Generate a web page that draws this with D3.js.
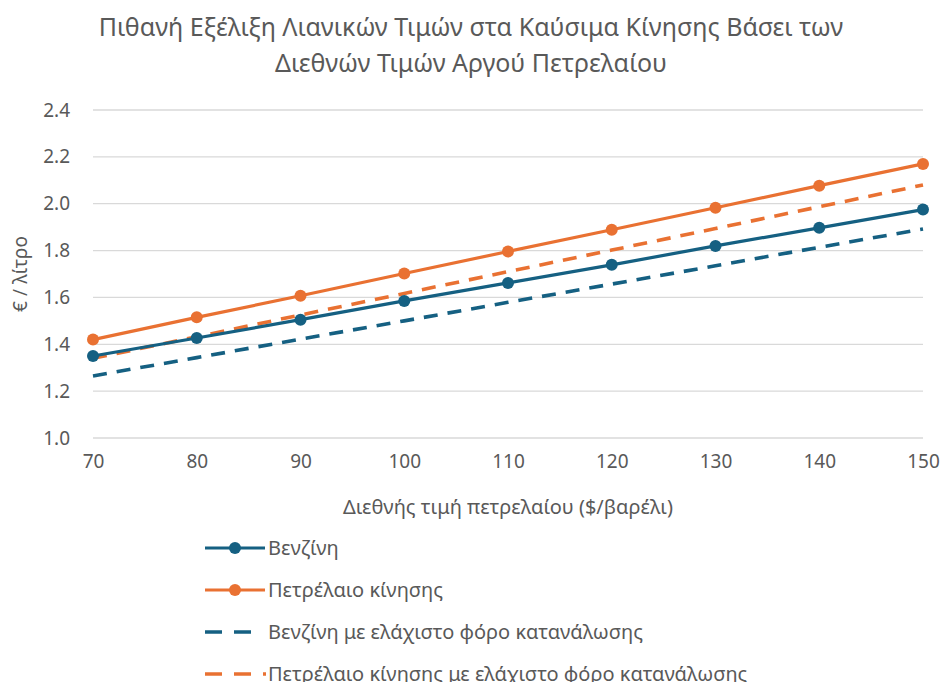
<!DOCTYPE html>
<html>
<head>
<meta charset="utf-8">
<script src="https://cdn.jsdelivr.net/npm/d3@7"></script>
<style>
  body { margin: 0; background: #fff; }
  svg { display: block; font-family: "Noto Sans", "Liberation Sans", Arial, sans-serif; }
</style>
</head>
<body>
<svg id="chart" width="943" height="682"></svg>
<script>
var oilPrices = [70, 80, 90, 100, 110, 120, 130, 140, 150];
var benzine = [1.35, 1.427, 1.505, 1.585, 1.662, 1.739, 1.82, 1.897, 1.975];
var diesel = [1.42, 1.515, 1.607, 1.702, 1.796, 1.889, 1.983, 2.077, 2.17];
var benzineMinTax = [1.265, 1.343, 1.422, 1.5, 1.579, 1.657, 1.735, 1.814, 1.892];
var dieselMinTax = [1.34, 1.432, 1.525, 1.617, 1.71, 1.802, 1.894, 1.987, 2.08];
var yTicks = [1.0, 1.2, 1.4, 1.6, 1.8, 2.0, 2.2, 2.4];
var seriesNames = ["Βενζίνη", "Πετρέλαιο κίνησης",
  "Βενζίνη με ελάχιστο φόρο κατανάλωσης",
  "Πετρέλαιο κίνησης με ελάχιστο φόρο κατανάλωσης"];

var blue = "#156082", orange = "#E97132", textCol = "#595959";

var series = [
  { name: seriesNames[0], values: benzine, color: blue, dashed: false },
  { name: seriesNames[1], values: diesel, color: orange, dashed: false },
  { name: seriesNames[2], values: benzineMinTax, color: blue, dashed: true },
  { name: seriesNames[3], values: dieselMinTax, color: orange, dashed: true }
];

var svg = d3.select("#chart");
var margin = { top: 110, left: 93, right: 20, bottom: 244 };
var width = 923 - margin.left, height = 438 - margin.top;

var xScale = d3.scaleLinear().domain([70, 150]).range([0, width]);
var yScale = d3.scaleLinear().domain([1.0, 2.4]).range([height, 0]);

// title
var titleLines = ["Πιθανή Εξέλιξη Λιανικών Τιμών στα Καύσιμα Κίνησης Βάσει των",
  "Διεθνών Τιμών Αργού Πετρελαίου"];
svg.selectAll(".title")
  .data(titleLines)
  .enter().append("text")
  .attr("class", "title")
  .attr("x", 471)
  .attr("y", function(d, i) { return 36 + i * 36; })
  .style("font-size", "25px").style("fill", textCol)
  .style("text-anchor", "middle")
  .text(function(d) { return d; });

var canvas = svg.append("g")
  .attr("transform", "translate(" + margin.left + "," + margin.top + ")");

// gridlines
canvas.append("g")
  .selectAll("line")
  .data(yTicks)
  .enter().append("line")
  .attr("x1", 0).attr("x2", width)
  .attr("y1", function(d) { return yScale(d); })
  .attr("y2", function(d) { return yScale(d); })
  .style("stroke", "#d9d9d9")
  .style("stroke-width", 1.3);

var yAxis = d3.axisLeft(yScale).tickValues(yTicks)
  .tickFormat(d3.format(".1f")).tickSize(0).tickPadding(23);
var xAxis = d3.axisBottom(xScale).tickValues(oilPrices)
  .tickFormat(d3.format("d")).tickSize(0).tickPadding(17);

var yg = canvas.append("g").call(yAxis);
yg.select(".domain").remove();
yg.selectAll("text").style("font-size", "19px").style("fill", textCol)
  .style("font-family", "'Noto Sans', sans-serif");

var xg = canvas.append("g")
  .attr("transform", "translate(0," + height + ")")
  .call(xAxis);
xg.select(".domain").remove();
xg.selectAll("text").style("font-size", "19px").style("fill", textCol)
  .style("font-family", "'Noto Sans', sans-serif");

// axis titles
svg.append("text")
  .attr("transform", "translate(20," + (margin.top + height / 2) + ") rotate(-90)")
  .attr("dy", ".35em")
  .style("font-size", "19px").style("fill", textCol)
  .style("text-anchor", "middle")
  .text("€ / λίτρο");

svg.append("text")
  .attr("x", margin.left + width / 2).attr("y", 507).attr("dy", ".35em")
  .style("font-size", "20px").style("fill", textCol)
  .style("text-anchor", "middle")
  .text("Διεθνής τιμή πετρελαίου ($/βαρέλι)");

var line = d3.line()
  .x(function(d, i) { return xScale(oilPrices[i]); })
  .y(function(d) { return yScale(d); });

// draw dashed first, then solid on top
[series[3], series[2], series[1], series[0]].forEach(function(s) {
  canvas.append("path")
    .datum(s.values)
    .attr("d", line)
    .style("fill", "none")
    .style("stroke", s.color)
    .style("stroke-width", s.dashed ? 3.6 : 3.2)
    .style("stroke-dasharray", s.dashed ? "14,10" : null)
    .style("stroke-linejoin", "round");
  if (!s.dashed) {
    canvas.selectAll(".dot-" + s.name.length)
      .data(s.values)
      .enter().append("circle")
      .attr("cx", function(d, i) { return xScale(oilPrices[i]); })
      .attr("cy", function(d) { return yScale(d); })
      .attr("r", 6)
      .style("fill", s.color);
  }
});

// legend
var legend = svg.selectAll(".legend")
  .data(series)
  .enter().append("g")
  .attr("class", "legend")
  .attr("transform", function(d, i) {
    return "translate(205," + (548 + i * 42) + ")";
  });

legend.append("line")
  .attr("x1", 0).attr("x2", function(d, i) { return i === 3 ? 62 : (d.dashed ? 50 : 60); })
  .attr("y1", 0).attr("y2", 0)
  .style("stroke", function(d) { return d.color; })
  .style("stroke-width", function(d) { return d.dashed ? 3.6 : 3.2; })
  .style("stroke-dasharray", function(d) { return d.dashed ? "17,12,17,12,3,100" : null; });

legend.filter(function(d) { return !d.dashed; })
  .append("circle")
  .attr("cx", 30).attr("cy", 0).attr("r", 6)
  .style("fill", function(d) { return d.color; });

legend.append("text")
  .attr("x", 63).attr("y", 0).attr("dy", ".35em")
  .style("font-size", "20px").style("fill", textCol)
  .text(function(d) { return d.name; });
</script>
</body>
</html>
